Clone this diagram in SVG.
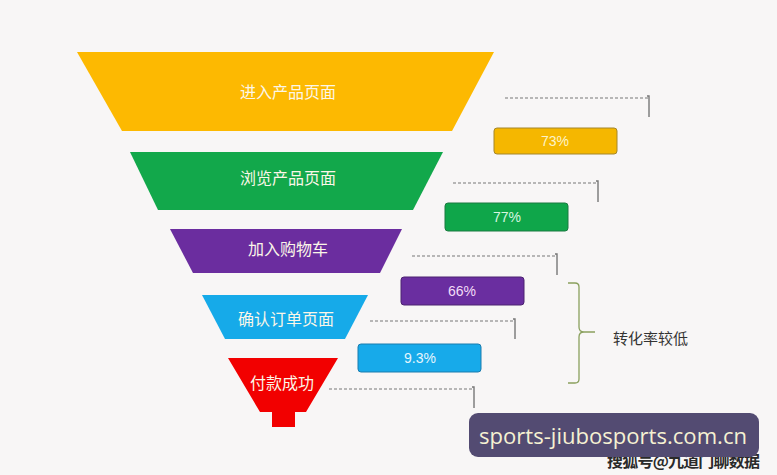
<svg xmlns="http://www.w3.org/2000/svg" width="777" height="475" viewBox="0 0 777 475">
<defs>
<style>
.lbl{font-family:"Noto Sans CJK SC","Noto Sans",sans-serif;font-size:16px;fill:#fbf6e8;text-anchor:middle;dominant-baseline:central}
.pct{font-family:"Liberation Sans","Noto Sans",sans-serif;font-size:14px;fill:#fdf3c8;text-anchor:middle;dominant-baseline:central}
.dash{stroke:#777;stroke-width:1.2;stroke-dasharray:3,2;fill:none}
.tick{stroke:#777;stroke-width:1.4;fill:none}
</style>
</defs>
<rect width="777" height="475" fill="#f8f6f6"/>

<g id="stage1">
<polygon points="77,52 494,52 452,131 122,131" fill="#fdb901"/>
<text class="lbl" x="288" y="91">进入产品页面</text>
</g>
<g id="stage2">
<polygon points="130,152 443,152 413,210 158,210" fill="#12a84b"/>
<text class="lbl" x="288" y="177">浏览产品页面</text>
</g>
<g id="stage3">
<polygon points="170,229 402,229 380,273 193,273" fill="#6b2d9f"/>
<text class="lbl" x="288" y="248">加入购物车</text>
</g>
<g id="stage4">
<polygon points="202,295 368,295 345,339 225,339" fill="#16aae9"/>
<text class="lbl" x="286" y="318">确认订单页面</text>
</g>
<g id="stage5">
<polygon points="228,358 338,358 306,412 295,412 295,427 272,427 272,412 260,412" fill="#f20000"/>
<text class="lbl" x="282" y="382">付款成功</text>
</g>

<g id="rate1">
<rect x="494" y="128" width="123" height="26" rx="3" fill="#f5b700" stroke="#a4862a" stroke-width="1"/>
<text class="pct" x="555" y="141">73%</text>
</g>
<g id="rate2">
<rect x="445" y="203" width="123" height="28" rx="3" fill="#0fa64a" stroke="#1a7a40" stroke-width="1"/>
<text class="pct" x="507" y="217" style="fill:#d8f6e0">77%</text>
</g>
<g id="rate3">
<rect x="401" y="277" width="123" height="28" rx="3" fill="#6a2ea0" stroke="#4c2270" stroke-width="1"/>
<text class="pct" x="462" y="291" style="fill:#f3dcf7">66%</text>
</g>
<g id="rate4">
<rect x="358" y="344" width="123" height="28" rx="3" fill="#17aaea" stroke="#1b7cae" stroke-width="1"/>
<text class="pct" x="420" y="358" style="fill:#e5f6fd">9.3%</text>
</g>

<g id="connectors">
<path class="dash" d="M505,98 H649"/>
<path class="tick" d="M647,96 H649 V117"/>
<path class="dash" d="M453,183 H598"/>
<path class="tick" d="M596,181 H598 V202"/>
<path class="dash" d="M412,256 H557"/>
<path class="tick" d="M555,254 H557 V275"/>
<path class="dash" d="M370,321 H515"/>
<path class="tick" d="M513,319 H515 V339"/>
<path class="dash" d="M329,389 H474"/>
<path class="tick" d="M472,387 H474 V408"/>
</g>

<g id="brace">
<path d="M568,283 H575 Q579,283 579,287 V327 Q579,332 584,332 H595 M584,332 Q579,332 579,337 V379 Q579,383 575,383 H568" fill="none" stroke="#8aa05e" stroke-width="1.3"/>
<text x="613" y="337" font-family="Noto Sans CJK SC,sans-serif" font-size="15" fill="#333" dominant-baseline="central">转化率较低</text>
</g>

<g id="watermark">
<text x="607" y="460" font-family="Noto Sans CJK SC,sans-serif" font-size="16" font-weight="bold" fill="#2a2a2a" dominant-baseline="central" textLength="153">搜狐号@九道门聊数据</text>
<rect x="469" y="413" width="290" height="44" rx="9" fill="#534b72"/>
<text x="479" y="444" font-family="Open Sans,DejaVu Sans,sans-serif" font-size="22" fill="#f6f1d2" textLength="268" lengthAdjust="spacingAndGlyphs">sports-jiubosports.com.cn</text>
</g>
</svg>
